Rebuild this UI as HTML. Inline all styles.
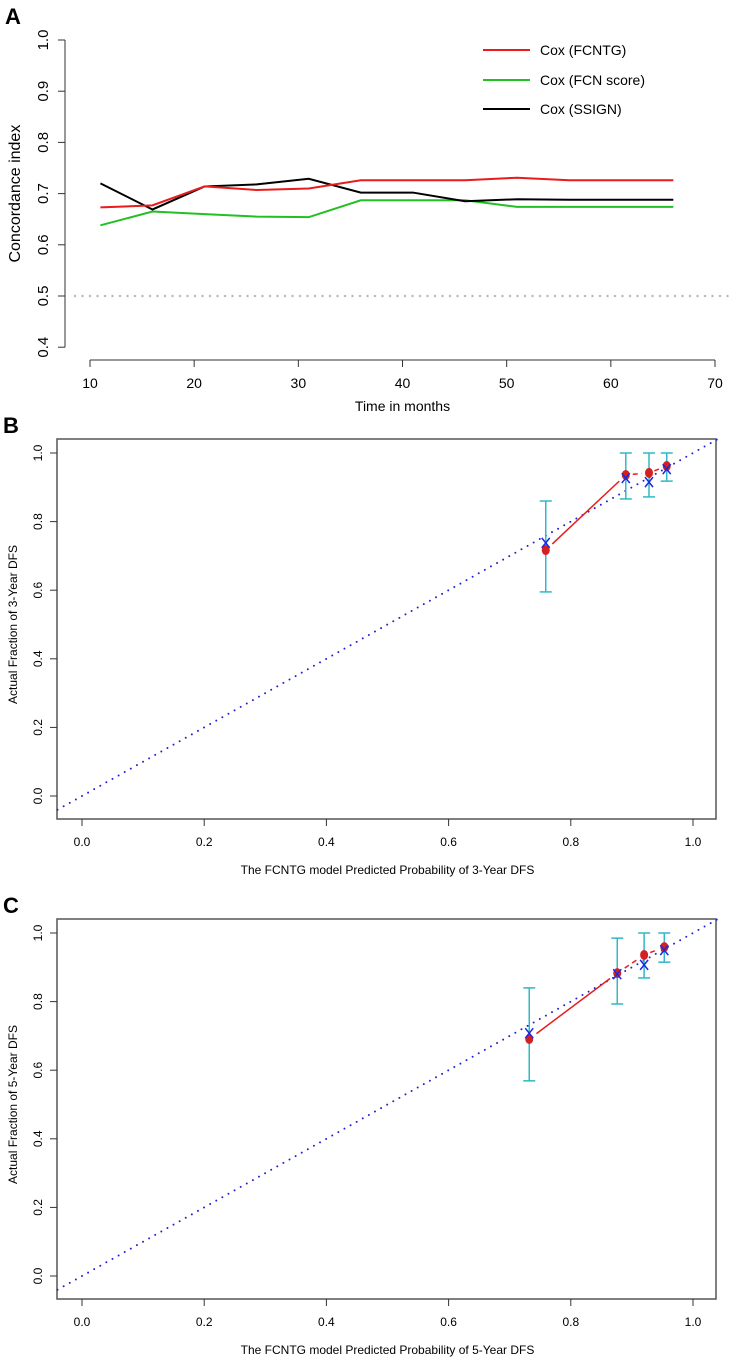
<!DOCTYPE html>
<html><head><meta charset="utf-8">
<style>
html,body{margin:0;padding:0;background:#fff;}
svg{display:block;font-family:"Liberation Sans",Arial,sans-serif;}
</style></head>
<body>
<svg id="chart" width="734" height="1360" viewBox="0 0 734 1360" xmlns="http://www.w3.org/2000/svg"></svg>
<script>
// ---------- Panel A data ----------
const aMonths = [11,16,21,26,31,36,41,46,51,56,61,66];
const aFCNTG = [0.673,0.677,0.714,0.707,0.710,0.726,0.726,0.726,0.731,0.726,0.726,0.726];
const aFCN   = [0.638,0.665,0.660,0.655,0.654,0.687,0.687,0.687,0.674,0.674,0.674,0.674];
const aSSIGN = [0.720,0.669,0.714,0.718,0.729,0.702,0.702,0.685,0.689,0.688,0.688,0.688];
const aXTicks = [10,20,30,40,50,60,70];
const aYTicks = [0.4,0.5,0.6,0.7,0.8,0.9,1.0];
const aLegend = ["Cox (FCNTG)","Cox (FCN score)","Cox (SSIGN)"];
// ---------- Panel B data ----------
const bPred = [0.759,0.890,0.928,0.957];
const bObs  = [0.717,0.936,0.942,0.962];
const bKM   = [0.738,0.927,0.915,0.953];
const bLo   = [0.595,0.866,0.872,0.918];
const bHi   = [0.860,1.000,1.000,1.000];
// ---------- Panel C data ----------
const cPred = [0.732,0.876,0.920,0.953];
const cObs  = [0.691,0.883,0.936,0.959];
const cKM   = [0.708,0.880,0.907,0.950];
const cLo   = [0.569,0.793,0.869,0.915];
const cHi   = [0.840,0.985,1.000,1.000];
const calTicks = [0,0.2,0.4,0.6,0.8,1.0];

const svg = document.getElementById('chart');
const NS = 'http://www.w3.org/2000/svg';
function mk(tag, attrs, parent){
  const e = document.createElementNS(NS, tag);
  for (const k in attrs) e.setAttribute(k, attrs[k]);
  (parent||svg).appendChild(e);
  return e;
}
function txt(s, x, y, attrs, parent){
  const e = mk('text', Object.assign({x:x,y:y}, attrs), parent);
  e.textContent = s; return e;
}

// ================= Panel A =================
const gA = mk('g', {});


const ax = v => 90 + (v-10)*(625/60);
const ay = v => 40 + (1.0-v)*512;
const labA = txt('A', 5, 24, {'font-size':22,'font-weight':'bold'}, gA);


// y axis
const yAxA = mk('line',{x1:65,y1:ay(1.0),x2:65,y2:ay(0.4),stroke:'#333','stroke-width':1}, gA);


aYTicks.forEach(v=>{
  mk('line',{x1:58,y1:ay(v),x2:65,y2:ay(v),stroke:'#333'},gA);
  const t = txt(v.toFixed(1), 0, 0, {'font-size':15,'text-anchor':'middle',transform:`translate(48,${ay(v)}) rotate(-90)`}, gA);
  
  
});
const yTA = txt('Concordance index',0,0,{'font-size':16,'text-anchor':'middle',transform:`translate(20,${(ay(1.0)+ay(0.4))/2}) rotate(-90)`},gA);


// x axis
const xAxA = mk('line',{x1:ax(10),y1:360,x2:ax(70),y2:360,stroke:'#333'},gA);


aXTicks.forEach(v=>{
  mk('line',{x1:ax(v),y1:360,x2:ax(v),y2:367,stroke:'#333'},gA);
  const t = txt(String(v), ax(v), 388, {'font-size':14,'text-anchor':'middle'}, gA);
  
  
});
const xTA = txt('Time in months', ax(40), 411, {'font-size':14,'text-anchor':'middle'}, gA);


// reference line
const ref = mk('line',{x1:75,y1:ay(0.5),x2:734,y2:ay(0.5),stroke:'#bbb','stroke-width':2.5,'stroke-dasharray':'0 7.5','stroke-linecap':'round'},gA);


// series
const seriesA = [[aFCN,'#22c022','line-fcn-score'],[aSSIGN,'#000','line-ssign'],[aFCNTG,'#e81c1c','line-fcntg']];
seriesA.forEach(([vals,col,name])=>{
  const p = mk('polyline',{points:vals.map((v,i)=>ax(aMonths[i])+','+ay(v)).join(' '),fill:'none',stroke:col,'stroke-width':2},gA);
  
  
});
// legend
const legCols = ['#e81c1c','#22c022','#000'];
const legY = [50,80,109];
aLegend.forEach((s,i)=>{
  const g = mk('g',{},gA);
  
  
  mk('line',{x1:483,y1:legY[i],x2:530,y2:legY[i],stroke:legCols[i],'stroke-width':2},g);
  txt(s, 540, legY[i]+5, {'font-size':14}, g);
});

// ================= Calibration panels =================
function calPanel(top, label, pred, obs, km, lo, hi, yTitle, xTitle, pname){
  const g = mk('g',{});
  
  
  const x = v => 82 + v*611;
  const y0 = top + 357; // y of 0.0
  const y = v => y0 - v*343;
  const boxTop = top, boxBot = top+380, boxL = 57, boxR = 716;
  const l = txt(label, 3, top-6, {'font-size':22,'font-weight':'bold'}, g);
  
  
  const box = mk('rect',{x:boxL,y:boxTop,width:boxR-boxL,height:boxBot-boxTop,fill:'none',stroke:'#555','stroke-width':1.5},g);
  
  
  calTicks.forEach(v=>{
    mk('line',{x1:boxL-7,y1:y(v),x2:boxL,y2:y(v),stroke:'#333'},g);
    const t = txt(v.toFixed(1),0,0,{'font-size':12,'text-anchor':'middle',transform:`translate(42,${y(v)}) rotate(-90)`},g);
    
    
    mk('line',{x1:x(v),y1:boxBot,x2:x(v),y2:boxBot+7,stroke:'#333'},g);
    const t2 = txt(v.toFixed(1),x(v),boxBot+27,{'font-size':12,'text-anchor':'middle'},g);
    
    
  });
  const yt = txt(yTitle,0,0,{'font-size':12,'text-anchor':'middle',transform:`translate(17,${(y(0)+y(1))/2}) rotate(-90)`},g);
  
  
  const xt = txt(xTitle,(x(0)+x(1))/2,boxBot+55,{'font-size':12,'text-anchor':'middle'},g);
  
  
  // ideal diagonal
  const d = mk('line',{x1:x(-0.04),y1:y(-0.04),x2:x(1.04),y2:y(1.04),stroke:'#2020d0','stroke-width':2,'stroke-dasharray':'0 7','stroke-linecap':'round'},g);
  
  
  // red connecting line (gaps around points)
  for (let i=0;i<pred.length-1;i++){
    const x1=x(pred[i]),y1=y(obs[i]),x2=x(pred[i+1]),y2=y(obs[i+1]);
    const dx=x2-x1, dy=y2-y1, L=Math.hypot(dx,dy), gap=Math.min(9,L*0.3);
    const seg = mk('line',{x1:x1+dx/L*gap,y1:y1+dy/L*gap,x2:x2-dx/L*gap,y2:y2-dy/L*gap,stroke:'#e81c1c','stroke-width':1.5},g);
    if (i>0) seg.setAttribute('stroke-dasharray','5 4');
    
    
  }
  pred.forEach((p,i)=>{
    const eg = mk('g',{},g);
    
    
    const cx=x(p);
    mk('line',{x1:cx,y1:y(lo[i]),x2:cx,y2:y(hi[i]),stroke:'#30b8c8','stroke-width':1.5},eg);
    mk('line',{x1:cx-6,y1:y(lo[i]),x2:cx+6,y2:y(lo[i]),stroke:'#30b8c8','stroke-width':1.5},eg);
    mk('line',{x1:cx-6,y1:y(hi[i]),x2:cx+6,y2:y(hi[i]),stroke:'#30b8c8','stroke-width':1.5},eg);
    mk('ellipse',{cx:cx,cy:y(obs[i]),rx:4,ry:5,fill:'#d42020'},eg);
    const ky=y(km[i]);
    mk('line',{x1:cx-4,y1:ky-5,x2:cx+4,y2:ky+5,stroke:'#1a2ae0','stroke-width':1.5},eg);
    mk('line',{x1:cx+4,y1:ky-5,x2:cx-4,y2:ky+5,stroke:'#1a2ae0','stroke-width':1.5},eg);
  });
}
calPanel(439,'B',bPred,bObs,bKM,bLo,bHi,'Actual Fraction of 3-Year DFS','The FCNTG model Predicted Probability of 3-Year DFS','panel-b-calibration-3yr');
calPanel(919,'C',cPred,cObs,cKM,cLo,cHi,'Actual Fraction of 5-Year DFS','The FCNTG model Predicted Probability of 5-Year DFS','panel-c-calibration-5yr');
</script>
</body></html>
